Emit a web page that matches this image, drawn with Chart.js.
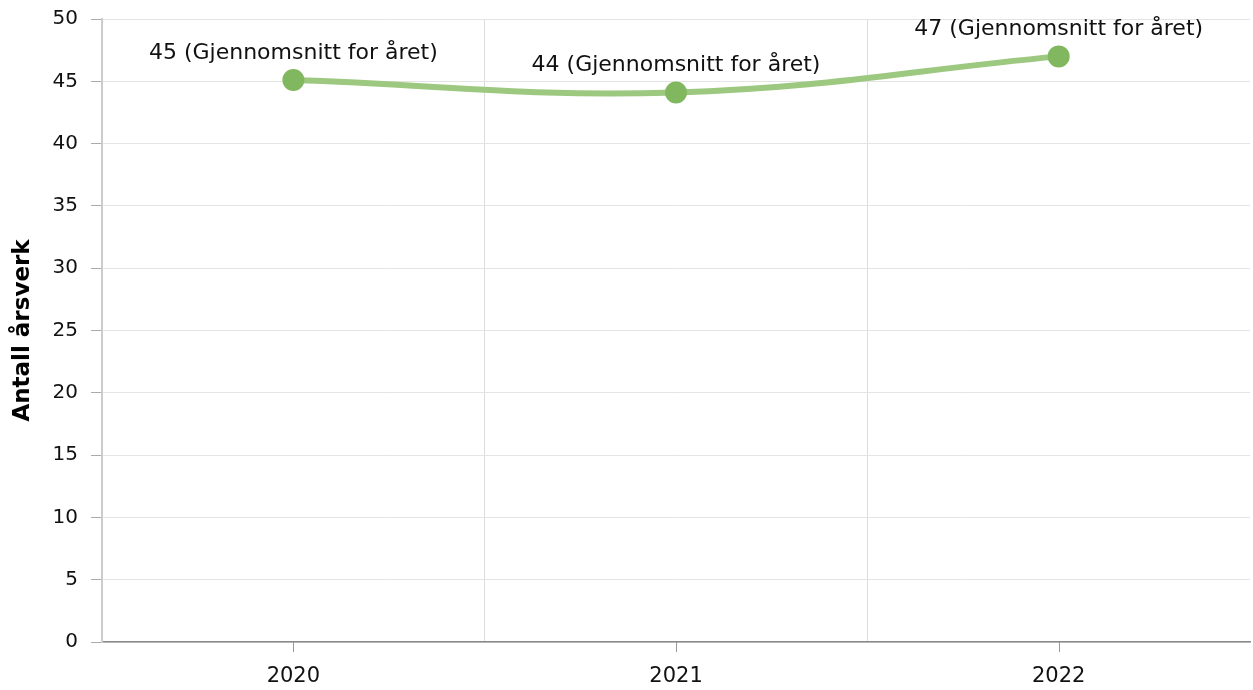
<!DOCTYPE html>
<html>
<head>
<meta charset="utf-8">
<script src="https://cdn.jsdelivr.net/npm/chart.js@4/dist/chart.umd.min.js"></script>
<style>
  html, body { margin: 0; padding: 0; background: #fff; }
  #wrap { width: 1253px; height: 690px; }
</style>
</head>
<body>
<div id="wrap"><canvas id="mychart" width="1253" height="690"></canvas></div>
<script>
//. data
var years = [ '2020', '2021', '2022' ];
var values = [ 45.1, 44.1, 47.0 ];
var pointLabels = [ '45 (Gjennomsnitt for året)', '44 (Gjennomsnitt for året)', '47 (Gjennomsnitt for året)' ];
var yTicks = [ 0, 5, 10, 15, 20, 25, 30, 35, 40, 45, 50 ];

var FONT = '"DejaVu Sans", Verdana, sans-serif';

//. labels over points + tick marks under categories
var extras = {
  id: 'extras',
  afterDatasetsDraw: function( chart ){
    var ctx = chart.ctx;
    var meta = chart.getDatasetMeta( 0 );
    ctx.save();
    ctx.font = '22px ' + FONT;
    ctx.fillStyle = '#111';
    ctx.textAlign = 'center';
    ctx.textBaseline = 'middle';
    meta.data.forEach( function( pt, i ){
      ctx.fillText( pointLabels[i], pt.x, pt.y - 27 );
    });

    var xs = chart.scales.x;
    var bottom = chart.chartArea.bottom;
    ctx.strokeStyle = '#999';
    ctx.lineWidth = 1;
    for( var i = 0; i < years.length; i ++ ){
      var x = Math.round( xs.getPixelForValue( i ) ) + 0.5;
      ctx.beginPath();
      ctx.moveTo( x, bottom );
      ctx.lineTo( x, bottom + 10 );
      ctx.stroke();
    }
    ctx.restore();
  }
};

var data = {
  labels: years,
  datasets: [
    {
      data: values,
      borderColor: '#9cc880',
      backgroundColor: '#80b75f',
      pointBackgroundColor: '#80b75f',
      pointBorderColor: '#80b75f',
      pointRadius: 8,
      pointHoverRadius: 8,
      borderWidth: 6,
      tension: 0.4,
      fill: false
    }
  ]
};

var options = {
  responsive: false,
  animation: false,
  layout: { autoPadding: false, padding: { top: 19, right: 3, left: 9, bottom: 0 } },
  plugins: {
    legend: { display: false },
    tooltip: { enabled: false }
  },
  scales: {
    x: {
      offset: true,
      afterFit: function( s ){
        s.paddingLeft = 0;
        s.paddingRight = 0;
        s.height = 48;
      },
      grid: {
        offset: true,
        color: function( c ){ return c.type === 'tick' ? '#dcdcdc' : 'rgba(0,0,0,0)'; },
        drawTicks: false
      },
      border: { color: '#888', width: 1.5 },
      ticks: {
        color: '#111',
        font: { family: FONT, size: 21 },
        padding: 22
      }
    },
    y: {
      min: 0,
      max: 50,
      afterBuildTicks: function( axis ){
        axis.ticks = yTicks.map( function( v ){ return { value: v }; } );
      },
      afterFit: function( s ){
        s.paddingTop = 0;
        s.paddingBottom = 0;
      },
      grid: {
        color: '#e4e4e4',
        tickColor: '#aaa',
        tickLength: 11
      },
      border: { color: '#ccc', width: 2 },
      ticks: {
        color: '#111',
        font: { family: FONT, size: 20 },
        padding: 13
      },
      title: {
        display: true,
        text: 'Antall årsverk',
        color: '#000',
        font: { family: FONT, size: 23, weight: 'bold' },
        padding: { top: 0, bottom: 3 }
      }
    }
  }
};

var ctx = document.getElementById( 'mychart' );
var chart = new Chart( ctx, {
  type: 'line',
  data: data,
  options: options,
  plugins: [ extras ]
});
</script>
</body>
</html>
